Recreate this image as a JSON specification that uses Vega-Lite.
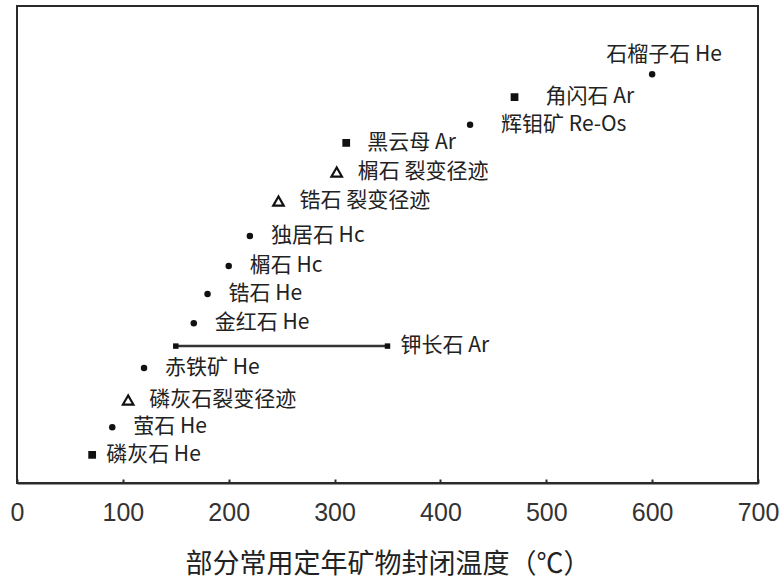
{
  "$schema": "https://vega.github.io/schema/vega-lite/v6.json",
  "width": 741,
  "height": 477,
  "autosize": "none",
  "padding": {"left": 17, "top": 6, "right": 25, "bottom": 99},
  "background": "white",
  "config": {
    "view": {"stroke": "#2a2a2a", "strokeWidth": 2},
    "font": "Noto Sans CJK SC"
  },
  "data": {
    "values": [
      {"name": "石榴子石 He", "temp": 600, "pos": 85.7, "type": "dot"},
      {"name": "角闪石 Ar", "temp": 470, "pos": 80.9, "type": "square"},
      {"name": "辉钼矿 Re-Os", "temp": 428, "pos": 75.1, "type": "dot"},
      {"name": "黑云母 Ar", "temp": 311, "pos": 71.3, "type": "square"},
      {"name": "榍石 裂变径迹", "temp": 302, "pos": 65.2, "type": "tri"},
      {"name": "锆石 裂变径迹", "temp": 247, "pos": 59.1, "type": "tri"},
      {"name": "独居石 Hc", "temp": 220, "pos": 51.8, "type": "dot"},
      {"name": "榍石 Hc", "temp": 200, "pos": 45.5, "type": "dot"},
      {"name": "锆石 He", "temp": 180, "pos": 39.6, "type": "dot"},
      {"name": "金红石 He", "temp": 167, "pos": 33.5, "type": "dot"},
      {"name": "钾长石 Ar", "temp": 150, "temp2": 350, "pos": 28.7, "type": "range"},
      {"name": "赤铁矿 He", "temp": 120, "pos": 24.1, "type": "dot"},
      {"name": "磷灰石裂变径迹", "temp": 105, "pos": 17.4, "type": "tri"},
      {"name": "萤石 He", "temp": 90, "pos": 11.7, "type": "dot"},
      {"name": "磷灰石 He", "temp": 71, "pos": 5.9, "type": "square"}
    ]
  },
  "encoding": {
    "x": {
      "field": "temp", "type": "quantitative",
      "scale": {"domain": [0, 700], "nice": false, "zero": false},
      "axis": {
        "title": "部分常用定年矿物封闭温度（℃）",
        "values": [0, 100, 200, 300, 400, 500, 600, 700],
        "grid": false,
        "domainColor": "#2a2a2a", "domainWidth": 2,
        "tickColor": "#2a2a2a", "tickSize": -4, "tickWidth": 2,
        "labelFontSize": 25, "labelFont": "Liberation Sans", "labelColor": "#333",
        "labelPadding": 21, "labelFlush": false,
        "titleFontSize": 27, "titleFont": "Noto Sans CJK SC", "titleFontWeight": "normal",
        "titleColor": "#222", "titlePadding": 26
      }
    },
    "y": {
      "field": "pos", "type": "quantitative",
      "scale": {"domain": [0, 100], "nice": false},
      "axis": null
    }
  },
  "layer": [
    {
      "transform": [{"filter": "datum.type === 'range'"}],
      "mark": {"type": "rule", "color": "#333", "strokeWidth": 2.5},
      "encoding": {"x2": {"field": "temp2"}}
    },
    {
      "transform": [{"filter": "datum.type === 'range'"}],
      "mark": {"type": "square", "color": "#111", "size": 30, "opacity": 1},
      "encoding": {}
    },
    {
      "transform": [{"filter": "datum.type === 'range'"}],
      "mark": {"type": "square", "color": "#111", "size": 30, "opacity": 1},
      "encoding": {"x": {"field": "temp2", "type": "quantitative"}}
    },
    {
      "transform": [{"filter": "datum.type === 'dot'"}],
      "mark": {"type": "circle", "color": "#111", "size": 42, "opacity": 1},
      "encoding": {}
    },
    {
      "transform": [{"filter": "datum.type === 'square'"}],
      "mark": {"type": "square", "color": "#111", "size": 60, "opacity": 1},
      "encoding": {}
    },
    {
      "transform": [{"filter": "datum.type === 'tri'"}],
      "mark": {"type": "point", "shape": "triangle-up", "filled": false, "color": "#111", "strokeWidth": 2.2, "size": 110, "opacity": 1},
      "encoding": {}
    },
    {
      "transform": [{"filter": "datum.type !== 'range' && indexof(['石榴子石 He','辉钼矿 Re-Os','角闪石 Ar','磷灰石 He'], datum.name) < 0"}],
      "mark": {"type": "text", "align": "left", "baseline": "middle", "dx": 21, "fontSize": 21, "color": "#222"},
      "encoding": {"text": {"field": "name"}}
    },
    {
      "transform": [{"filter": "indexof(['辉钼矿 Re-Os','角闪石 Ar'], datum.name) >= 0"}],
      "mark": {"type": "text", "align": "left", "baseline": "middle", "dx": 31, "fontSize": 21, "color": "#222"},
      "encoding": {"text": {"field": "name"}}
    },
    {
      "transform": [{"filter": "datum.name === '磷灰石 He'"}],
      "mark": {"type": "text", "align": "left", "baseline": "middle", "dx": 14, "fontSize": 21, "color": "#222"},
      "encoding": {"text": {"field": "name"}}
    },
    {
      "transform": [{"filter": "datum.type === 'range'"}],
      "mark": {"type": "text", "align": "left", "baseline": "middle", "dx": 13, "fontSize": 21, "color": "#222"},
      "encoding": {"x": {"field": "temp2", "type": "quantitative"}, "text": {"field": "name"}}
    },
    {
      "transform": [{"filter": "datum.name === '石榴子石 He'"}],
      "mark": {"type": "text", "align": "center", "baseline": "middle", "dx": 12, "dy": -19, "fontSize": 21, "color": "#222"},
      "encoding": {"text": {"field": "name"}}
    }
  ]
}
